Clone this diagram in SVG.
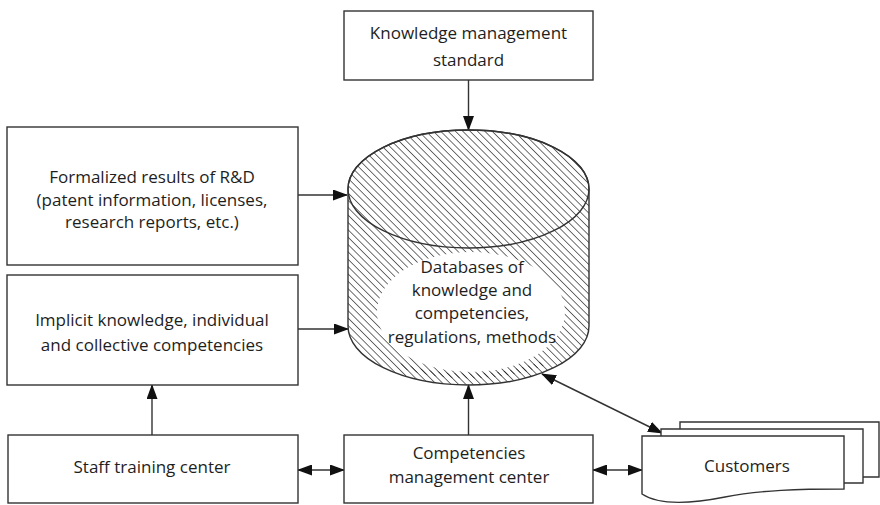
<svg xmlns="http://www.w3.org/2000/svg" width="880" height="505" viewBox="0 0 880 505">
  <style>
    .box { fill: #fff; stroke: #333; stroke-width: 1.4; }
    .line { fill: none; stroke: #333; stroke-width: 1.4; }
    .lbl { font-family: "Open Sans", "Noto Sans", sans-serif; font-size: 17px; fill: #1e1e1e; text-anchor: middle; }
  </style>
  <defs>
    <pattern id="hatch" patternUnits="userSpaceOnUse" width="5.2" height="5.2" patternTransform="rotate(-45)">
      <line x1="0" y1="-1" x2="0" y2="7" stroke="#111" stroke-width="1.2"/>
    </pattern>
    <marker id="arrow" viewBox="0 0 15 11" refX="14" refY="5.5" markerWidth="15" markerHeight="11" markerUnits="userSpaceOnUse" orient="auto-start-reverse">
      <path d="M0,0 L15,5.5 L0,11 Z" fill="#111"/>
    </marker>
  </defs>

  <rect width="880" height="505" fill="#fff"/>

  <!-- connectors -->
  <g id="connectors">
    <line class="line" x1="468.5" y1="80" x2="468.5" y2="130" marker-end="url(#arrow)"/>
    <line class="line" x1="298" y1="195" x2="347" y2="195" marker-end="url(#arrow)"/>
    <line class="line" x1="298" y1="329" x2="348" y2="329" marker-end="url(#arrow)"/>
    <line class="line" x1="152" y1="435" x2="152" y2="385" marker-end="url(#arrow)"/>
    <line class="line" x1="468.5" y1="435" x2="468.5" y2="385" marker-end="url(#arrow)"/>
    <line class="line" x1="298" y1="470" x2="344" y2="470" marker-start="url(#arrow)" marker-end="url(#arrow)"/>
    <line class="line" x1="593" y1="470" x2="642" y2="470" marker-start="url(#arrow)" marker-end="url(#arrow)"/>
    <line class="line" x1="542" y1="374" x2="662" y2="433" marker-start="url(#arrow)" marker-end="url(#arrow)"/>
  </g>

  <!-- top standard box -->
  <g id="kms">
    <rect class="box" x="344" y="11" width="249" height="69"/>
    <text class="lbl" x="468.5" y="39">Knowledge management</text>
    <text class="lbl" x="468.5" y="66">standard</text>
  </g>

  <!-- database cylinder -->
  <g id="database">
    <path d="M348,189 L348,326 A120.5,59 0 0 0 589,326 L589,189 A120.5,59 0 0 0 348,189 Z" fill="url(#hatch)" stroke="#333" stroke-width="1.4"/>
    <ellipse cx="468.5" cy="189" rx="120.5" ry="59" fill="none" stroke="#333" stroke-width="1.4"/>
    <ellipse cx="471" cy="312" rx="94" ry="60" fill="#fff"/>
    <!-- short hatch ticks just inside the lower rim -->
    <path d="M400,365.5 A120.5,59 0 0 0 545,362.6" fill="none" stroke="url(#hatch)" stroke-width="5"/>
    <text class="lbl" x="472" y="273">Databases of</text>
    <text class="lbl" x="472" y="296">knowledge and</text>
    <text class="lbl" x="472" y="319">competencies,</text>
    <text class="lbl" x="472" y="343">regulations, methods</text>
  </g>

  <!-- R&D results -->
  <g id="rnd">
    <rect class="box" x="7" y="127" width="291" height="138"/>
    <text class="lbl" x="152" y="183">Formalized results of R&amp;D</text>
    <text class="lbl" x="152" y="206">(patent information, licenses,</text>
    <text class="lbl" x="152" y="228">research reports, etc.)</text>
  </g>

  <!-- implicit knowledge -->
  <g id="implicit">
    <rect class="box" x="7" y="275" width="291" height="110"/>
    <text class="lbl" x="152" y="326">Implicit knowledge, individual</text>
    <text class="lbl" x="152" y="351">and collective competencies</text>
  </g>

  <!-- staff training -->
  <g id="staff">
    <rect class="box" x="8" y="435" width="290" height="68"/>
    <text class="lbl" x="152" y="473">Staff training center</text>
  </g>

  <!-- competencies management -->
  <g id="cmc">
    <rect class="box" x="344" y="435" width="249" height="68"/>
    <text class="lbl" x="469" y="459">Competencies</text>
    <text class="lbl" x="469" y="483">management center</text>
  </g>

  <!-- customers (stacked documents) -->
  <g id="customers">
    <path class="box" d="M680,422 L879,422 L879,477 L863,477 L680,477 Z"/>
    <path class="box" d="M661,429 L863,429 L863,483 L661,483 Z"/>
    <path class="box" d="M642,436 L844,436 L844,489 C800,489 760,490 725,497 C695,503 660,506 642,494 Z"/>
    <text class="lbl" x="747" y="472">Customers</text>
  </g>
</svg>
